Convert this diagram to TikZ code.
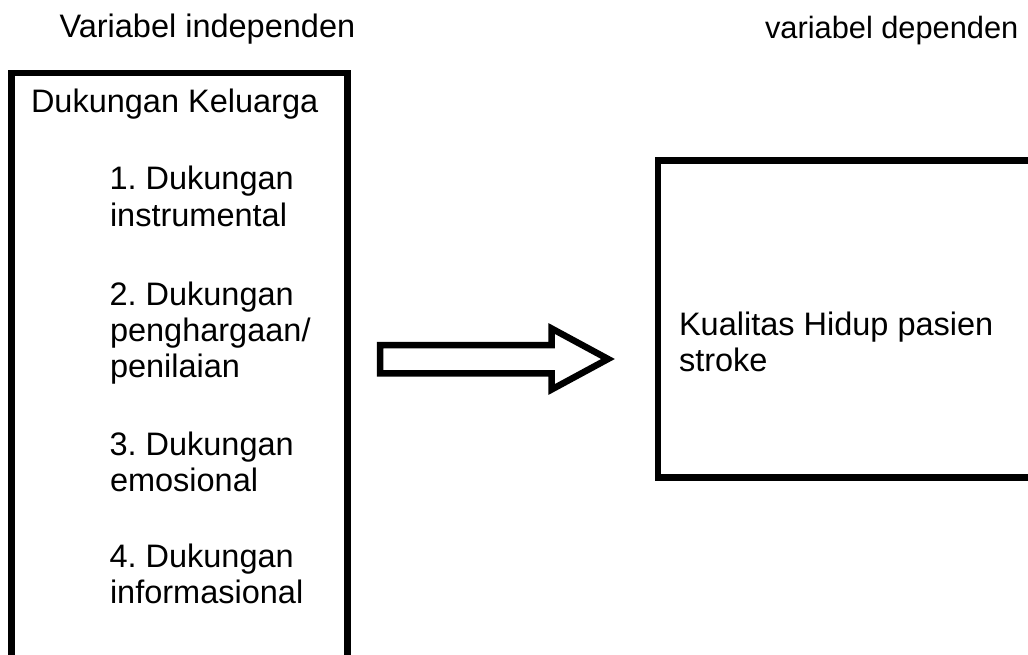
\documentclass[tikz,border=0pt]{standalone}
\usepackage{fontspec}
\setmainfont{Liberation Sans}
\begin{document}
\frenchspacing
\begin{tikzpicture}[x=1pt,y=-1pt,
  boxline/.style={line width=6.5pt, line join=miter},
  txt/.style={anchor=base west, inner sep=0pt, outer sep=0pt, font=\fontsize{32.5}{36}\selectfont}]
\useasboundingbox (0,0) rectangle (1028,655);
\clip (0,0) rectangle (1028,655);
\fill[white] (0,0) rectangle (1028,655);
% boxes
\draw[boxline] (11.7,730) -- (11.7,73) -- (347.5,73) -- (347.5,730);
\draw[boxline] (1060,160.7) -- (658,160.7) -- (658,477.5) -- (1060,477.5);
\coordinate (lbox) at (347.5,359);
\coordinate (rbox) at (658,359);
% headings
\node[txt] (hind) at (59.5,38) {Variabel independen};
\node[txt, font=\fontsize{30.8}{36}\selectfont] (hdep) at (765,39) {variabel dependen};
% left content
\node[txt] (dk) at (31,113) {Dukungan Keluarga};
\node[txt] (a1) at (109.5,190) {1. Dukungan};
\node[txt] (a2) at (110,226) {instrumental};
\node[txt] (b1) at (109.5,305) {2. Dukungan};
\node[txt] (b2) at (110,341) {penghargaan/};
\node[txt] (b3) at (110,377) {penilaian};
\node[txt] (c1) at (109.5,455) {3. Dukungan};
\node[txt] (c2) at (110,491) {emosional};
\node[txt] (d1) at (109.5,567) {4. Dukungan};
\node[txt] (d2) at (110,603) {informasional};
% right content
\node[txt] (k1) at (679,335) {Kualitas Hidup pasien};
\node[txt] (k2) at (679,371.5) {stroke};
% block arrow
\draw[boxline] (380,345) -- (551.6,345) -- (551.6,328.5) -- (608,359) -- (551.6,389.5) -- (551.6,373.4) -- (380,373.4) -- cycle;
\end{tikzpicture}
\end{document}
